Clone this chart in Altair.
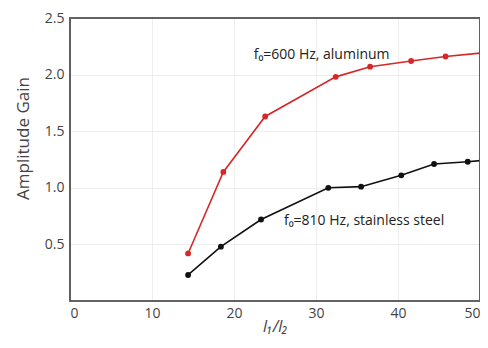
import altair as alt
import pandas as pd

al_x = [14.4, 18.7, 23.8, 32.4, 36.6, 41.6, 45.8, 50.0]
al_y = [0.42, 1.14, 1.63, 1.98, 2.07, 2.12, 2.16, 2.19]
ss_x = [14.4, 18.4, 23.3, 31.5, 35.5, 40.4, 44.4, 48.5, 50.0]
ss_y = [0.23, 0.48, 0.72, 1.00, 1.01, 1.11, 1.21, 1.23, 1.24]
al_marked = [True, True, True, True, True, True, True, False]
ss_marked = [True, True, True, True, True, True, True, True, False]

labels = ["f\u2080=600 Hz, aluminum", "f\u2080=810 Hz, stainless steel"]
label_x = [22.4, 26.1]
label_y = [2.17, 0.71]

W, H = 410, 283

df = pd.concat([
    pd.DataFrame({"x": al_x, "y": al_y, "s": "al", "m": al_marked}),
    pd.DataFrame({"x": ss_x, "y": ss_y, "s": "ss", "m": ss_marked}),
])
lab = pd.DataFrame({"t": labels, "x": label_x, "y": label_y})

FONT = "Open Sans"
xs = alt.Scale(domain=[0, 50], nice=False)
ys = alt.Scale(domain=[0, 2.5], nice=False)
color = alt.Color("s:N", scale=alt.Scale(domain=["al", "ss"], range=["#d62828", "#111111"]), legend=None)

xax = alt.Axis(values=[0, 10, 20, 30, 40, 50], title="l\u2081/l\u2082", titleFontStyle="italic",
               ticks=False, domain=False, labelPadding=5,
               titleY=30, titleBaseline="alphabetic",
               labelFontSize=14, titleFontSize=16, labelColor="#444", titleColor="#444",
               gridColor="#eeeeee", labelFont=FONT, titleFont=FONT, titleFontWeight="normal")
yax = alt.Axis(values=[0.5, 1.0, 1.5, 2.0, 2.5], format=".1f", title="Amplitude Gain",
               ticks=False, domain=False, labelPadding=6, titlePadding=12, titleY=120,
               labelFontSize=14, titleFontSize=17, labelColor="#444", titleColor="#444",
               gridColor="#eeeeee", labelFont=FONT, titleFont=FONT, titleFontWeight="normal")

base = alt.Chart(df)
lines = base.mark_line(strokeWidth=1.6).encode(
    x=alt.X("x:Q", scale=xs, axis=xax), y=alt.Y("y:Q", scale=ys, axis=yax), color=color, detail="s:N")
pts = base.transform_filter("datum.m").mark_circle(size=34, opacity=1).encode(
    x=alt.X("x:Q", scale=xs), y=alt.Y("y:Q", scale=ys), color=color)
txt = alt.Chart(lab).mark_text(align="left", baseline="middle", fontSize=14, font=FONT, color="#222").encode(
    x=alt.X("x:Q", scale=xs), y=alt.Y("y:Q", scale=ys), text="t:N")
frame = alt.Chart(lab).mark_rect(fill=None, stroke="#5a5a5a", strokeWidth=1.6).encode(
    x=alt.value(0), x2=alt.value(W), y=alt.value(0), y2=alt.value(H))

chart = alt.layer(lines, pts, txt, frame).properties(
    width=W, height=H,
    background="white",
    autosize=alt.AutoSizeParams(type="none"),
    padding={"left": 62, "top": 10, "right": 0, "bottom": 39},
).configure_view(stroke=None)

chart.save("out.html", embed_options={"renderer": "svg", "actions": False})
